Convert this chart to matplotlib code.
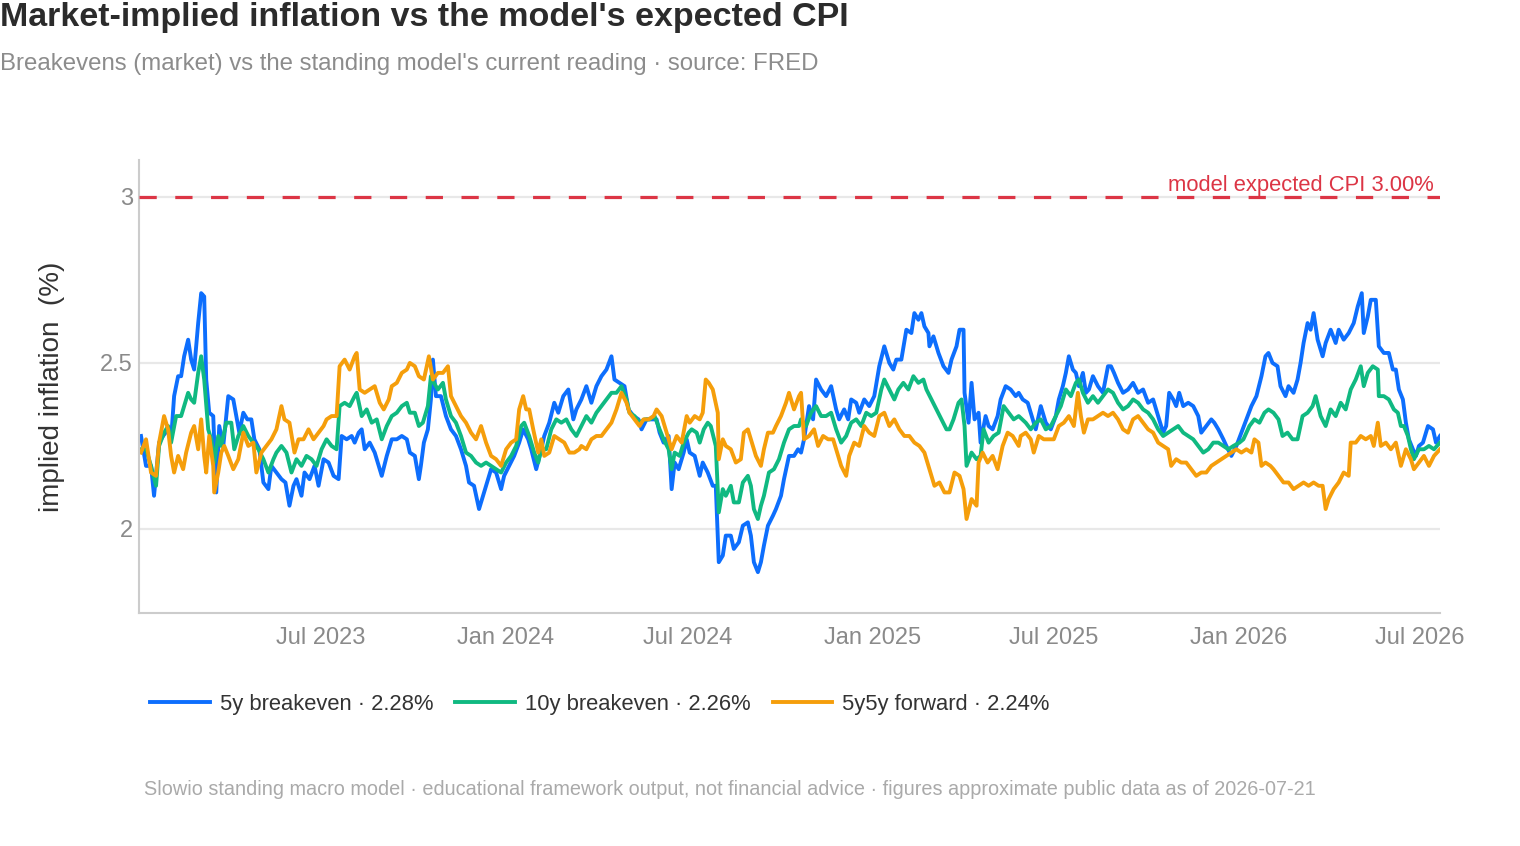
import numpy as np
import pandas as pd
import matplotlib
matplotlib.use("Agg")
import matplotlib.pyplot as plt
import matplotlib.dates as mdates

plt.rcParams['font.family'] = ['Liberation Sans', 'DejaVu Sans']

# days since 2023-01-01 and readings (%) for each series
start = pd.Timestamp("2023-01-01")
end = pd.Timestamp("2026-07-21")

be5_days = [2, 7, 12, 15, 20, 24, 29, 32, 35, 39,
            42, 45, 49, 52, 55, 59, 62, 65, 67, 70,
            74, 77, 80, 84, 89, 94, 97, 100, 104, 108,
            112, 115, 120, 124, 129, 132, 137, 142, 146, 150,
            154, 157, 162, 165, 170, 175, 179, 184, 189, 194,
            199, 202, 207, 212, 215, 219, 222, 225, 230, 235,
            242, 247, 252, 257, 262, 267, 270, 275, 279, 281,
            284, 288, 291, 293, 296, 301, 306, 311, 316, 321,
            326, 329, 334, 339, 344, 348, 351, 356, 361, 364,
            369, 374, 379, 383, 388, 391, 396, 401, 404, 409,
            414, 418, 423, 428, 433, 436, 441, 446, 451, 456,
            461, 466, 471, 474, 479, 484, 488, 493, 498, 501,
            506, 511, 516, 519, 523, 528, 531, 534, 538, 543,
            546, 549, 554, 559, 562, 567, 572, 575, 578, 582,
            585, 590, 593, 598, 602, 607, 610, 613, 617, 620,
            623, 627, 632, 635, 640, 643, 648, 653, 657, 660,
            663, 668, 672, 675, 680, 685, 690, 695, 698, 703,
            707, 710, 715, 718, 723, 728, 733, 738, 743, 748,
            752, 755, 760, 765, 770, 773, 777, 780, 783, 787,
            788, 792, 797, 802, 807, 810, 815, 818, 822, 823,
            827, 830, 833, 837, 839, 844, 847, 851, 856, 859,
            864, 869, 874, 877, 881, 886, 891, 894, 899, 904,
            909, 914, 917, 921, 924, 927, 931, 934, 937, 941,
            944, 947, 951, 956, 961, 966, 969, 972, 976, 981,
            986, 991, 996, 1001, 1006, 1011, 1016, 1021, 1024, 1027,
            1031, 1034, 1037, 1041, 1046, 1051, 1056, 1059, 1064, 1069,
            1072, 1076, 1081, 1084, 1089, 1094, 1099, 1104, 1109, 1114,
            1119, 1123, 1126, 1130, 1135, 1138, 1143, 1146, 1151, 1155,
            1158, 1161, 1165, 1168, 1171, 1175, 1180, 1183, 1188, 1193,
            1196, 1201, 1206, 1211, 1215, 1219, 1221, 1225, 1228, 1233,
            1236, 1241, 1246, 1250, 1253, 1256, 1260, 1263, 1266, 1270,
            1273, 1276, 1280, 1285, 1290, 1293, 1297]
be5_vals = [2.28, 2.19, 2.19, 2.10, 2.26, 2.28, 2.30, 2.27, 2.40, 2.46,
            2.46, 2.52, 2.57, 2.51, 2.48, 2.62, 2.71, 2.70, 2.45, 2.35,
            2.34, 2.11, 2.31, 2.25, 2.40, 2.39, 2.34, 2.29, 2.35, 2.33,
            2.33, 2.27, 2.24, 2.14, 2.12, 2.19, 2.17, 2.15, 2.14, 2.07,
            2.13, 2.15, 2.10, 2.17, 2.15, 2.19, 2.13, 2.21, 2.20, 2.16,
            2.15, 2.28, 2.27, 2.28, 2.26, 2.29, 2.30, 2.24, 2.26, 2.23,
            2.16, 2.22, 2.27, 2.27, 2.28, 2.27, 2.23, 2.22, 2.15, 2.19,
            2.26, 2.30, 2.39, 2.51, 2.40, 2.40, 2.34, 2.30, 2.28, 2.24,
            2.19, 2.14, 2.13, 2.06, 2.11, 2.15, 2.18, 2.17, 2.12, 2.16,
            2.19, 2.22, 2.26, 2.30, 2.27, 2.24, 2.18, 2.24, 2.28, 2.32,
            2.38, 2.35, 2.40, 2.42, 2.33, 2.36, 2.39, 2.43, 2.38, 2.43,
            2.46, 2.48, 2.52, 2.45, 2.44, 2.43, 2.36, 2.34, 2.33, 2.30,
            2.33, 2.33, 2.33, 2.29, 2.26, 2.28, 2.12, 2.20, 2.18, 2.23,
            2.27, 2.23, 2.22, 2.16, 2.20, 2.17, 2.13, 2.13, 1.90, 1.92,
            1.98, 1.98, 1.94, 1.96, 2.01, 2.02, 1.98, 1.90, 1.87, 1.90,
            1.95, 2.01, 2.04, 2.06, 2.10, 2.15, 2.22, 2.22, 2.24, 2.23,
            2.27, 2.37, 2.33, 2.45, 2.42, 2.40, 2.43, 2.36, 2.33, 2.36,
            2.33, 2.39, 2.38, 2.35, 2.39, 2.37, 2.40, 2.49, 2.55, 2.50,
            2.48, 2.51, 2.51, 2.60, 2.59, 2.65, 2.63, 2.65, 2.61, 2.59,
            2.55, 2.58, 2.53, 2.49, 2.47, 2.51, 2.55, 2.60, 2.60, 2.41,
            2.32, 2.44, 2.33, 2.35, 2.26, 2.34, 2.31, 2.30, 2.34, 2.39,
            2.43, 2.42, 2.40, 2.41, 2.39, 2.38, 2.33, 2.30, 2.37, 2.32,
            2.30, 2.34, 2.39, 2.43, 2.47, 2.52, 2.48, 2.47, 2.43, 2.47,
            2.41, 2.42, 2.46, 2.43, 2.41, 2.49, 2.49, 2.47, 2.44, 2.41,
            2.42, 2.44, 2.41, 2.42, 2.38, 2.39, 2.34, 2.29, 2.31, 2.41,
            2.39, 2.37, 2.41, 2.37, 2.38, 2.37, 2.34, 2.29, 2.31, 2.33,
            2.32, 2.30, 2.27, 2.25, 2.22, 2.25, 2.29, 2.33, 2.37, 2.40,
            2.46, 2.52, 2.53, 2.50, 2.49, 2.43, 2.40, 2.43, 2.41, 2.45,
            2.50, 2.56, 2.62, 2.60, 2.65, 2.57, 2.52, 2.56, 2.60, 2.56,
            2.60, 2.57, 2.59, 2.62, 2.67, 2.71, 2.59, 2.64, 2.69, 2.69,
            2.55, 2.53, 2.53, 2.48, 2.48, 2.42, 2.39, 2.32, 2.27, 2.24,
            2.22, 2.25, 2.26, 2.31, 2.30, 2.26, 2.28]

be10_days = [2, 7, 12, 17, 20, 25, 29, 32, 37, 42,
             45, 49, 52, 55, 59, 62, 65, 69, 72, 75,
             79, 82, 87, 92, 95, 99, 104, 109, 114, 119,
             124, 129, 134, 137, 142, 147, 152, 157, 162, 167,
             172, 177, 182, 187, 192, 197, 200, 205, 210, 215,
             217, 222, 227, 232, 237, 242, 247, 252, 257, 262,
             267, 270, 275, 279, 283, 288, 291, 294, 298, 303,
             306, 311, 316, 321, 326, 331, 336, 341, 346, 351,
             356, 361, 366, 371, 376, 381, 384, 389, 394, 398,
             401, 406, 411, 416, 421, 426, 431, 436, 441, 446,
             451, 456, 461, 466, 471, 476, 481, 486, 489, 494,
             499, 504, 509, 514, 519, 523, 528, 531, 534, 539,
             543, 548, 551, 556, 559, 563, 567, 570, 575, 578,
             582, 585, 590, 593, 598, 602, 607, 610, 613, 617,
             620, 623, 628, 633, 638, 643, 648, 653, 658, 660,
             665, 670, 675, 680, 685, 690, 695, 700, 705, 710,
             715, 720, 725, 730, 735, 740, 743, 748, 753, 757,
             762, 767, 772, 777, 782, 785, 790, 795, 800, 805,
             808, 812, 817, 820, 823, 825, 830, 835, 839, 842,
             847, 852, 857, 862, 867, 872, 877, 884, 889, 894,
             899, 904, 909, 914, 919, 924, 929, 934, 937, 941,
             946, 951, 956, 961, 966, 971, 976, 981, 986, 991,
             996, 1001, 1006, 1011, 1016, 1021, 1026, 1031, 1036, 1041,
             1046, 1051, 1056, 1061, 1066, 1071, 1076, 1081, 1086, 1091,
             1097, 1101, 1107, 1112, 1117, 1122, 1126, 1131, 1136, 1140,
             1145, 1150, 1155, 1160, 1165, 1170, 1173, 1178, 1183, 1188,
             1193, 1198, 1203, 1208, 1213, 1218, 1221, 1225, 1230, 1235,
             1236, 1241, 1246, 1251, 1255, 1258, 1261, 1265, 1268, 1271,
             1276, 1281, 1286, 1291, 1297]
be10_vals = [2.24, 2.24, 2.19, 2.13, 2.25, 2.29, 2.31, 2.26, 2.34, 2.34,
             2.37, 2.41, 2.39, 2.38, 2.47, 2.52, 2.45, 2.30, 2.27, 2.20,
             2.28, 2.25, 2.32, 2.32, 2.24, 2.28, 2.31, 2.28, 2.26, 2.24,
             2.21, 2.17, 2.21, 2.23, 2.25, 2.23, 2.17, 2.21, 2.19, 2.22,
             2.21, 2.19, 2.24, 2.27, 2.25, 2.24, 2.37, 2.38, 2.37, 2.40,
             2.41, 2.34, 2.36, 2.32, 2.33, 2.27, 2.31, 2.34, 2.35, 2.37,
             2.38, 2.35, 2.35, 2.31, 2.32, 2.37, 2.46, 2.44, 2.42, 2.44,
             2.39, 2.34, 2.32, 2.28, 2.23, 2.22, 2.20, 2.19, 2.20, 2.19,
             2.18, 2.17, 2.20, 2.22, 2.25, 2.31, 2.32, 2.28, 2.23, 2.20,
             2.24, 2.24, 2.30, 2.33, 2.32, 2.33, 2.30, 2.28, 2.31, 2.34,
             2.32, 2.35, 2.37, 2.39, 2.41, 2.41, 2.43, 2.39, 2.35, 2.34,
             2.32, 2.33, 2.33, 2.34, 2.30, 2.27, 2.24, 2.18, 2.23, 2.22,
             2.26, 2.29, 2.30, 2.29, 2.26, 2.30, 2.32, 2.31, 2.25, 2.05,
             2.12, 2.10, 2.13, 2.08, 2.08, 2.14, 2.16, 2.13, 2.06, 2.03,
             2.07, 2.10, 2.17, 2.18, 2.21, 2.26, 2.30, 2.31, 2.31, 2.33,
             2.31, 2.35, 2.37, 2.34, 2.34, 2.35, 2.30, 2.26, 2.28, 2.32,
             2.33, 2.31, 2.35, 2.34, 2.35, 2.42, 2.45, 2.42, 2.39, 2.42,
             2.44, 2.42, 2.46, 2.44, 2.45, 2.42, 2.39, 2.36, 2.33, 2.30,
             2.30, 2.33, 2.38, 2.39, 2.31, 2.19, 2.23, 2.21, 2.22, 2.30,
             2.26, 2.28, 2.29, 2.37, 2.35, 2.33, 2.34, 2.32, 2.30, 2.32,
             2.33, 2.30, 2.31, 2.34, 2.37, 2.42, 2.40, 2.44, 2.45, 2.41,
             2.38, 2.40, 2.38, 2.40, 2.42, 2.41, 2.38, 2.36, 2.37, 2.39,
             2.38, 2.36, 2.35, 2.33, 2.30, 2.28, 2.29, 2.30, 2.31, 2.29,
             2.28, 2.27, 2.25, 2.23, 2.24, 2.26, 2.26, 2.25, 2.24, 2.25,
             2.26, 2.27, 2.31, 2.33, 2.32, 2.35, 2.36, 2.35, 2.33, 2.28,
             2.29, 2.27, 2.27, 2.34, 2.35, 2.37, 2.40, 2.34, 2.31, 2.36,
             2.34, 2.38, 2.36, 2.42, 2.45, 2.49, 2.43, 2.47, 2.49, 2.48,
             2.40, 2.40, 2.39, 2.36, 2.35, 2.31, 2.31, 2.28, 2.24, 2.21,
             2.24, 2.24, 2.25, 2.24, 2.26]

fwd_days = [2, 7, 12, 17, 20, 25, 29, 32, 35, 39,
            44, 47, 52, 55, 59, 62, 65, 67, 70, 74,
            75, 79, 82, 85, 89, 94, 99, 104, 109, 114,
            117, 122, 127, 132, 137, 142, 145, 150, 155, 159,
            164, 169, 174, 179, 184, 187, 192, 197, 200, 205,
            210, 215, 217, 220, 225, 230, 235, 240, 244, 249,
            252, 257, 262, 267, 270, 275, 279, 284, 289, 293,
            298, 303, 308, 311, 316, 321, 326, 331, 336, 341,
            346, 351, 356, 361, 366, 371, 376, 379, 383, 386,
            389, 393, 398, 401, 404, 409, 414, 419, 424, 429,
            434, 439, 441, 446, 451, 456, 461, 466, 471, 476,
            481, 486, 489, 494, 499, 503, 508, 513, 516, 521,
            524, 528, 531, 536, 541, 546, 549, 554, 559, 562,
            565, 568, 572, 577, 578, 582, 585, 590, 595, 600,
            603, 607, 610, 615, 620, 623, 627, 632, 635, 640,
            645, 648, 653, 658, 660, 663, 668, 673, 677, 682,
            687, 692, 697, 700, 705, 708, 713, 718, 723, 728,
            733, 738, 743, 748, 753, 758, 763, 768, 773, 778,
            783, 788, 793, 798, 803, 808, 813, 818, 822, 825,
            830, 835, 837, 841, 846, 851, 856, 861, 866, 871,
            877, 879, 884, 889, 892, 897, 902, 907, 912, 917,
            922, 927, 932, 936, 939, 942, 946, 951, 956, 961,
            966, 971, 976, 981, 986, 991, 996, 1001, 1006, 1011,
            1016, 1021, 1026, 1029, 1034, 1039, 1044, 1049, 1054, 1059,
            1064, 1069, 1074, 1079, 1084, 1089, 1094, 1099, 1104, 1109,
            1112, 1116, 1119, 1123, 1128, 1131, 1136, 1141, 1146, 1151,
            1156, 1161, 1166, 1171, 1176, 1180, 1183, 1186, 1191, 1196,
            1201, 1206, 1208, 1213, 1218, 1223, 1228, 1231, 1235, 1238,
            1243, 1248, 1253, 1258, 1263, 1268, 1271, 1276, 1281, 1286,
            1291, 1297]
fwd_vals = [2.23, 2.27, 2.17, 2.16, 2.26, 2.34, 2.30, 2.22, 2.17, 2.22,
            2.18, 2.23, 2.29, 2.31, 2.24, 2.33, 2.22, 2.17, 2.28, 2.19,
            2.11, 2.17, 2.23, 2.25, 2.22, 2.18, 2.21, 2.29, 2.25, 2.26,
            2.17, 2.23, 2.25, 2.27, 2.30, 2.37, 2.33, 2.32, 2.23, 2.27,
            2.27, 2.30, 2.27, 2.29, 2.31, 2.33, 2.34, 2.34, 2.49, 2.51,
            2.48, 2.52, 2.53, 2.42, 2.41, 2.42, 2.43, 2.38, 2.36, 2.39,
            2.43, 2.44, 2.47, 2.48, 2.50, 2.49, 2.46, 2.45, 2.52, 2.45,
            2.47, 2.47, 2.49, 2.40, 2.37, 2.34, 2.32, 2.29, 2.27, 2.31,
            2.26, 2.22, 2.21, 2.19, 2.24, 2.26, 2.27, 2.36, 2.40, 2.36,
            2.36, 2.30, 2.23, 2.27, 2.22, 2.23, 2.28, 2.27, 2.26, 2.23,
            2.23, 2.24, 2.25, 2.24, 2.27, 2.28, 2.28, 2.30, 2.32, 2.36,
            2.41, 2.38, 2.35, 2.33, 2.31, 2.33, 2.33, 2.34, 2.36, 2.34,
            2.31, 2.27, 2.24, 2.28, 2.26, 2.34, 2.32, 2.34, 2.33, 2.35,
            2.45, 2.44, 2.42, 2.35, 2.21, 2.27, 2.25, 2.24, 2.20, 2.21,
            2.29, 2.30, 2.27, 2.22, 2.19, 2.24, 2.29, 2.29, 2.31, 2.34,
            2.38, 2.41, 2.36, 2.40, 2.41, 2.27, 2.28, 2.30, 2.25, 2.28,
            2.27, 2.27, 2.22, 2.19, 2.16, 2.22, 2.26, 2.25, 2.31, 2.29,
            2.28, 2.34, 2.35, 2.31, 2.33, 2.30, 2.28, 2.28, 2.26, 2.25,
            2.23, 2.18, 2.13, 2.14, 2.11, 2.11, 2.17, 2.16, 2.12, 2.03,
            2.09, 2.07, 2.20, 2.23, 2.20, 2.22, 2.18, 2.25, 2.29, 2.28,
            2.25, 2.28, 2.29, 2.27, 2.23, 2.28, 2.27, 2.27, 2.27, 2.31,
            2.32, 2.34, 2.31, 2.41, 2.34, 2.29, 2.33, 2.33, 2.34, 2.35,
            2.34, 2.35, 2.33, 2.30, 2.29, 2.33, 2.34, 2.32, 2.30, 2.29,
            2.26, 2.25, 2.24, 2.19, 2.21, 2.20, 2.20, 2.18, 2.16, 2.17,
            2.17, 2.19, 2.20, 2.21, 2.22, 2.23, 2.24, 2.23, 2.24, 2.23,
            2.27, 2.26, 2.19, 2.20, 2.19, 2.18, 2.16, 2.14, 2.14, 2.12,
            2.13, 2.14, 2.13, 2.14, 2.13, 2.13, 2.06, 2.09, 2.12, 2.14,
            2.17, 2.16, 2.26, 2.26, 2.28, 2.27, 2.28, 2.25, 2.32, 2.25,
            2.26, 2.24, 2.26, 2.19, 2.24, 2.21, 2.18, 2.20, 2.22, 2.19,
            2.22, 2.24]

series_names = ["5y breakeven", "10y breakeven", "5y5y forward"]
series_days = [be5_days, be10_days, fwd_days]
series_vals = [be5_vals, be10_vals, fwd_vals]
series_colors = ["#0d6efd", "#10b981", "#f59e0b"]

model_cpi = 3.00
tick_dates = ["2023-07-01", "2024-01-01", "2024-07-01", "2025-01-01",
              "2025-07-01", "2026-01-01", "2026-07-01"]
y_ticks = [2, 2.5, 3]

red = "#dc3545"

fig = plt.figure(figsize=(15.2, 8.46), dpi=100)
ax = fig.add_axes([139 / 1520, 1 - 613 / 846, 1301 / 1520, 453 / 846])

handles = []
for name, d, v, c in zip(series_names, series_days, series_vals, series_colors):
    dates = start + pd.to_timedelta(d, unit="D")
    ln, = ax.plot(dates, v, color=c, lw=2.8, solid_joinstyle="round")
    ln.set_label(f"{name} \u00b7 {v[-1]:.2f}%")
    handles.append(ln)

ax.axhline(model_cpi, color=red, lw=2.3, dashes=(5.4, 5.8), zorder=3)
ax.annotate(f"model expected CPI {model_cpi:.2f}%", xy=(1, model_cpi),
            xycoords=("axes fraction", "data"), xytext=(-4.3, 4.5),
            textcoords="offset points", ha="right", va="baseline",
            color=red, fontsize=15.8)

ax.set_xlim(start, end)
ax.set_ylim(1.747, 3.111)
ax.set_yticks(y_ticks)
ax.set_yticklabels(["2", "2.5", "3"])
ax.set_xticks(pd.to_datetime(tick_dates))
ax.xaxis.set_major_formatter(mdates.DateFormatter("%b %Y"))
ax.yaxis.grid(True, color="#e8e8e8", lw=1.6)
ax.set_axisbelow(True)
ax.tick_params(axis="both", length=0, labelsize=17, labelcolor="#8a8a8a")
ax.tick_params(axis="x", pad=10)
ax.tick_params(axis="y", pad=4.5)
for s in ["top", "right"]:
    ax.spines[s].set_visible(False)
for s in ["left", "bottom"]:
    ax.spines[s].set_color("#cccccc")
    ax.spines[s].set_linewidth(1.5)

fig.text(52 / 1520, 1 - 387 / 846, "implied inflation  (%)", rotation=90,
         ha="center", va="center", fontsize=20, color="#333333")

fig.text(0, 1 - 26 / 846, "Market-implied inflation vs the model's expected CPI",
         fontsize=24.5, weight="bold", color="#2b2b2b", va="baseline")
fig.text(0, 1 - 70 / 846,
         "Breakevens (market) vs the standing model's current reading \u00b7 source: FRED",
         fontsize=17.3, color="#8c8c8c", va="baseline")

leg = fig.legend(handles=handles, loc="center left",
                 bbox_to_anchor=(150 / 1520, 1 - 704 / 846), ncol=3,
                 frameon=False, handlelength=2.73, handletextpad=0.45,
                 columnspacing=1.0, borderpad=0, borderaxespad=0,
                 fontsize=15.8)
for t in leg.get_texts():
    t.set_color("#333333")

fig.text(144 / 1520, 1 - 789 / 846,
         "Slowio standing macro model \u00b7 educational framework output, not financial advice "
         "\u00b7 figures approximate public data as of 2026-07-21",
         fontsize=14.35, color="#aaaaaa", va="center", ha="left")

fig.savefig("out.png", dpi=100)
